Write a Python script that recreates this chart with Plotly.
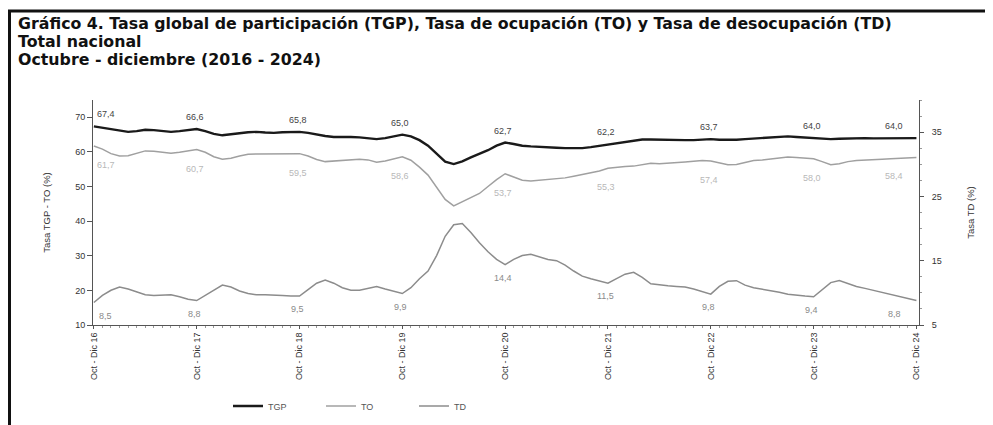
import plotly.graph_objects as go

# ---------------- data ----------------
year_labels = ["Oct - Dic 16", "Oct - Dic 17", "Oct - Dic 18", "Oct - Dic 19", "Oct - Dic 20",
               "Oct - Dic 21", "Oct - Dic 22", "Oct - Dic 23", "Oct - Dic 24"]

tgp = [67.4, 67.0, 66.4, 66.0, 65.8, 66.0, 66.4, 66.3, 66.0, 65.8, 66.0, 66.3,
       66.6, 66.0, 65.2, 64.8, 65.0, 65.4, 65.7, 65.8, 65.6, 65.5, 65.7, 65.8,
       65.8, 65.5, 65.0, 64.6, 64.3, 64.4, 64.3, 64.2, 64.0, 63.7, 64.0, 64.4,
       65.0, 64.5, 63.4, 61.8, 59.5, 57.2, 56.5, 57.3, 58.4, 59.4, 60.5, 61.8,
       62.7, 62.3, 61.8, 61.6, 61.4, 61.3, 61.2, 61.1, 61.0, 61.1, 61.4, 61.8,
       62.2, 62.6, 63.0, 63.3, 63.6, 63.6, 63.5, 63.5, 63.4, 63.4, 63.4, 63.5,
       63.7, 63.5, 63.4, 63.5, 63.7, 63.9, 64.0, 64.2, 64.4, 64.5, 64.3, 64.1,
       64.0, 63.8, 63.7, 63.8, 63.9, 64.0, 64.0, 63.9, 63.9, 64.0, 64.0, 63.9,
       64.0]

to = [61.7, 60.8, 59.5, 58.8, 58.9, 59.6, 60.3, 60.2, 59.9, 59.6, 59.9, 60.4,
      60.7, 59.9, 58.6, 57.9, 58.2, 58.8, 59.3, 59.4, 59.4, 59.5, 59.6, 59.5,
      59.5, 58.8, 57.8, 57.2, 57.4, 57.7, 57.8, 57.9, 57.7, 57.0, 57.4, 58.0,
      58.6, 57.6, 55.6, 53.3, 49.8, 46.3, 44.4, 45.6, 46.9, 48.0, 50.0, 52.0,
      53.7, 52.8, 51.8, 51.6, 51.8, 52.0, 52.1, 52.5, 53.0, 53.5, 54.0, 54.5,
      55.3, 55.6, 55.8, 55.9, 56.4, 56.7, 56.6, 56.7, 56.9, 57.1, 57.3, 57.5,
      57.4, 56.8, 56.3, 56.4, 57.0, 57.5, 57.7, 58.0, 58.3, 58.5, 58.4, 58.2,
      58.0, 57.2, 56.3, 56.6, 57.2, 57.5, 57.7, 57.8, 57.9, 58.0, 58.1, 58.3,
      58.4]

td = [8.5, 9.6, 10.4, 10.9, 10.6, 10.1, 9.7, 9.6, 9.7, 9.7, 9.4, 9.0,
      8.8, 9.6, 10.5, 11.2, 10.9, 10.3, 9.9, 9.7, 9.7, 9.7, 9.6, 9.5,
      9.5, 10.5, 11.5, 12.0, 11.5, 10.8, 10.4, 10.4, 10.7, 11.0, 10.6, 10.2,
      9.9, 10.8, 12.2, 13.4, 15.8, 18.8, 20.6, 20.8, 19.4, 17.8, 16.4, 15.2,
      14.4, 15.2, 15.8, 16.0, 15.6, 15.2, 15.0, 14.3, 13.4, 12.6, 12.2, 11.9,
      11.5, 12.2, 12.9, 13.2, 12.4, 11.4, 11.2, 11.1, 11.0, 10.9, 10.6, 10.2,
      9.8, 11.0, 11.8, 11.9, 11.2, 10.8, 10.6, 10.4, 10.1, 9.8, 9.6, 9.5,
      9.4, 10.5, 11.6, 11.9, 11.4, 11.0, 10.7, 10.4, 10.1, 9.8, 9.5, 9.1,
      8.8]

# labelled values at each Oct-Dic quarter
tgp_lab = [67.4, 66.6, 65.8, 65.0, 62.7, 62.2, 63.7, 64.0, 64.0]
to_lab = [61.7, 60.7, 59.5, 58.6, 53.7, 55.3, 57.4, 58.0, 58.4]
td_lab = [8.5, 8.8, 9.5, 9.9, 14.4, 11.5, 9.8, 9.4, 8.8]

x = list(range(len(tgp)))
year_idx = [12 * k for k in range(len(year_labels))]

# ---------------- geometry helpers (reference pixel coords) ----------------
OFF = 8  # page body margin
W, H = 993 - OFF, 425 - OFF
L, R, T, B = 93, 919, 100, 325   # plot area in reference coords


def px(xp):
    return (xp - L) / (R - L)


def py(yp):
    return (B - yp) / (B - T)


fig = go.Figure()
fig.add_trace(go.Scatter(x=x, y=tgp, name="TGP", mode="lines",
                         line=dict(color="#1a1a1a", width=2.4)))
fig.add_trace(go.Scatter(x=x, y=to, name="TO", mode="lines",
                         line=dict(color="#a0a0a0", width=1.5)))
fig.add_trace(go.Scatter(x=x, y=td, name="TD", mode="lines", yaxis="y2",
                         line=dict(color="#8c8c8c", width=1.5)))

lab_font = dict(family="Liberation Sans, Arial", size=9)
n = len(year_idx)
for k, i in enumerate(year_idx):
    xs = 12 if k == 0 else (-22 if k == n - 1 else -2)
    fig.add_annotation(x=i, y=tgp[i], text=f"{tgp_lab[k]:.1f}".replace(".", ","),
                       showarrow=False, yshift=12, xshift=xs,
                       font=dict(color="#444444", **lab_font))
    fig.add_annotation(x=i, y=to[i], text=f"{to_lab[k]:.1f}".replace(".", ","),
                       showarrow=False, yshift=-19, xshift=xs,
                       font=dict(color="#b8b8b8", **lab_font))
    fig.add_annotation(x=i, y=td[i], yref="y2", text=f"{td_lab[k]:.1f}".replace(".", ","),
                       showarrow=False, yshift=-13, xshift=xs,
                       font=dict(color="#8a8a8a", **lab_font))

# title lines
title_font = dict(family="DejaVu Sans", size=15.8, color="#111111", weight="bold")
for txt, yy in [("Gráfico 4. Tasa global de participación (TGP), Tasa de ocupación (TO) y Tasa de desocupación (TD)", 23),
                ("Total nacional", 41.5),
                ("Octubre - diciembre (2016 - 2024)", 60)]:
    fig.add_annotation(xref="paper", yref="paper", x=px(17), y=py(yy), text=txt,
                       showarrow=False, xanchor="left", yanchor="middle", font=title_font,
                       borderpad=0)

# frame lines
fig.add_shape(type="line", xref="paper", yref="paper", x0=px(8), x1=px(1000),
              y0=py(11), y1=py(11), line=dict(color="#111111", width=3))
fig.add_shape(type="line", xref="paper", yref="paper", x0=px(9.5), x1=px(9.5),
              y0=py(10), y1=py(430), line=dict(color="#111111", width=3))

axis_font = dict(family="Liberation Sans, Arial", size=9, color="#333333")
title_ax_font = dict(family="Liberation Sans Narrow, Liberation Sans, Arial", size=9.5, color="#333333")
fig.update_layout(
    width=W, height=H,
    margin=dict(l=L - OFF, r=993 - R, t=T - OFF, b=425 - B, autoexpand=False),
    paper_bgcolor="white", plot_bgcolor="white",
    showlegend=True,
    legend=dict(orientation="h", x=px(228), y=py(406), xanchor="left", yanchor="middle",
                entrywidth=48, entrywidthmode="pixels", itemwidth=30,
                font=dict(family="Liberation Sans, Arial", size=9, color="#555555"),
                bgcolor="rgba(0,0,0,0)"),
    xaxis=dict(range=[-0.1, 96.3], tickmode="array", tickvals=year_idx, ticktext=year_labels,
               tickangle=-90, tickfont=axis_font, showline=True, linecolor="#555555", linewidth=1,
               ticks="outside", ticklen=3, tickcolor="#555555", showgrid=False, zeroline=False,
               minor=dict(dtick=1, tick0=0, ticks="outside", ticklen=2, tickcolor="#999999")),
    yaxis=dict(range=[10, 75], tickvals=[10, 20, 30, 40, 50, 60, 70], tickfont=axis_font,
               showline=True, linecolor="#555555", linewidth=1, ticks="outside", ticklen=5,
               tickcolor="#555555", showgrid=False, zeroline=False,
               title=dict(text="Tasa TGP - TO (%)", font=title_ax_font, standoff=22)),
    yaxis2=dict(range=[5, 40], tickvals=[5, 15, 25, 35], overlaying="y", side="right",
                tickfont=axis_font, showline=True, linecolor="#555555", linewidth=1,
                ticks="outside", ticklen=4, tickcolor="#555555", showgrid=False, zeroline=False,
                ticklabelstandoff=6,
                minor=dict(dtick=2.5, tick0=5, ticks="outside", ticklen=2, tickcolor="#999999"),
                title=dict(text="Tasa TD (%)", font=title_ax_font, standoff=26)),
)

fig.write_html("out.html")
